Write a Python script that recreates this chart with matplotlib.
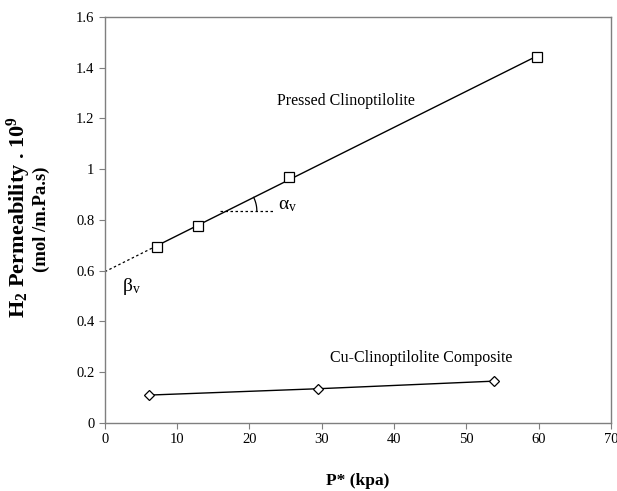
import numpy as np
import matplotlib
matplotlib.use("Agg")
import matplotlib.pyplot as plt

plt.rcParams['font.family'] = ['Liberation Serif', 'DejaVu Serif']
plt.rcParams['mathtext.fontset'] = 'custom'
plt.rcParams['mathtext.rm'] = 'Liberation Serif'
plt.rcParams['mathtext.it'] = 'Liberation Serif:italic'
plt.rcParams['mathtext.bf'] = 'Liberation Serif:bold'

# pressed clinoptilolite
p_pressed = [7.2, 12.9, 25.5, 59.8]
perm_pressed = [0.695, 0.776, 0.969, 1.443]
# Cu-clinoptilolite composite
p_cu = [6.1, 29.5, 53.9]
perm_cu = [0.110, 0.135, 0.165]

xticks = [0, 10, 20, 30, 40, 50, 60, 70]
yticks = [0, 0.2, 0.4, 0.6, 0.8, 1, 1.2, 1.4, 1.6]
ylabels = ["0", "0.2", "0.4", "0.6", "0.8", "1", "1.2", "1.4", "1.6"]

W, H = 617, 491
fig = plt.figure(figsize=(W / 100, H / 100), dpi=100)
ax = fig.add_axes([0.170, 0.1385, 0.820, 0.827])

# linear fit for pressed sample
slope, icpt = np.polyfit(p_pressed, perm_pressed, 1)
xs = np.array([p_pressed[0], p_pressed[-1]])
ax.plot(xs, slope * xs + icpt, color='black', lw=1)
xd = np.array([0, p_pressed[0]])
ax.plot(xd, slope * xd + icpt, color='black', lw=0.9, ls=(0, (2, 2)))
ax.plot(p_pressed, perm_pressed, ls='none', marker='s', ms=6.5, mfc='white',
        mec='black', mew=0.9)

ax.plot(p_cu, perm_cu, color='black', lw=1, marker='D', ms=5.5, mfc='white',
        mec='black', mew=0.9)

ax.set_xlim(0, 70)
ax.set_ylim(0, 1.6)

# alpha angle annotation
y0 = 0.836
x0 = (y0 - icpt) / slope
ax.plot([x0 - 0.9, 23.5], [y0, y0], color='black', lw=0.9, ls=(0, (2, 2)))
fig.canvas.draw()
sx = ax.transData.transform((1, 0))[0] - ax.transData.transform((0, 0))[0]
sy = ax.transData.transform((0, 1))[1] - ax.transData.transform((0, 0))[1]
r = 30
ang = np.arctan(slope * sy / sx)
t = np.linspace(0, ang, 30)
ax.plot(x0 + r * np.cos(t) / sx, y0 + r * np.sin(t) / sy, color='black', lw=0.9)

ax.text(24.0, 0.858, r'$\mathrm{α}_\mathrm{v}$', fontsize=14, va='center', ha='left')
ax.text(2.4, 0.536, r'$\mathrm{β}_\mathrm{v}$', fontsize=14, va='center', ha='left')

ax.text(33.4, 1.27, 'Pressed Clinoptilolite', fontsize=11.5, ha='center', va='center')
ax.text(43.8, 0.256, 'Cu-Clinoptilolite Composite', fontsize=11.5, ha='center', va='center')

ax.set_xticks(xticks)
ax.set_yticks(yticks)
ax.set_yticklabels(ylabels)
ax.tick_params(labelsize=10.5, length=4, color='#7f7f7f', direction='out')
for s in ax.spines.values():
    s.set_color('#7f7f7f')
    s.set_linewidth(1)

ax.set_xlabel('P* (kpa)', fontsize=12.5, fontweight='bold', labelpad=19)

# y label: two lines with different sizes
fig.text(19 / W, 1 - 217.5 / H, 'H$_\\mathbf{2}$ Permeability . 10$^\\mathbf{9}$',
         rotation=90, fontsize=16, fontweight='bold', ha='center', va='center')
fig.text(41.5 / W, 1 - 219.5 / H, '(mol /m.Pa.s)',
         rotation=90, fontsize=13.4, fontweight='bold', ha='center', va='center')

fig.savefig('out.png', dpi=100)
